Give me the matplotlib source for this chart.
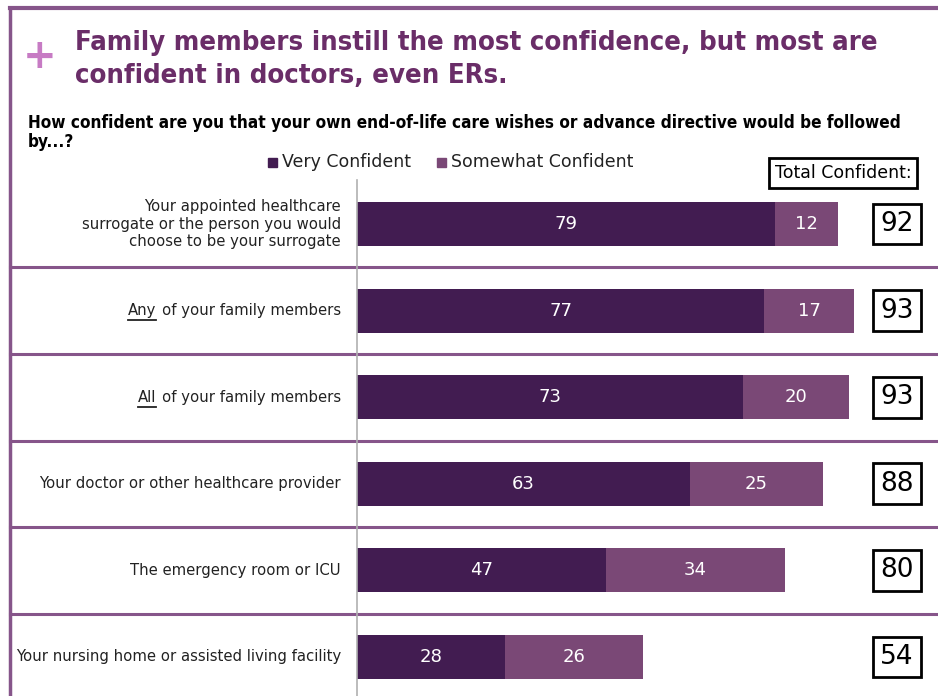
import matplotlib
matplotlib.use("Agg")
import matplotlib.pyplot as plt
from matplotlib.lines import Line2D
from matplotlib.patches import Rectangle
from matplotlib import font_manager as fm
import matplotlib.transforms as mtrans

categories = [
    "Your appointed healthcare\nsurrogate or the person you would\nchoose to be your surrogate",
    "Any of your family members",
    "All of your family members",
    "Your doctor or other healthcare provider",
    "The emergency room or ICU",
    "Your nursing home or assisted living facility",
]
very = [79, 77, 73, 63, 47, 28]
somewhat = [12, 17, 20, 25, 34, 26]
totals = [92, 93, 93, 88, 80, 54]
series_names = ["Very Confident", "Somewhat Confident"]

DARK = "#421c51"
LIGHT = "#7a4876"
TITLE = "#6a2d68"
FRAME = "#86558a"
PLUS = "#c77bc4"

W, H = 938, 696
fig = plt.figure(figsize=(W / 100, H / 100), dpi=100)
r = fig.canvas.get_renderer()


def fx(px):
    return px / W


def fy(py):
    return 1 - py / H


def condensed_bold():
    best = None
    for f in fm.fontManager.ttflist:
        name = f.name.lower()
        st = str(f.stretch).lower()
        cond = ("condensed" in st or "narrow" in name or "condensed" in name
                or "narrow" in f.fname.lower() or "condensed" in f.fname.lower())
        wt = f.weight
        bold = (wt in ("bold", "heavy", "black", "demibold", "semibold")
                or (isinstance(wt, int) and wt >= 600))
        if cond and bold and "mono" not in name and "serif" not in name.replace("sans", ""):
            best = f.fname
            break
    if best:
        return fm.FontProperties(fname=best)
    return fm.FontProperties(family="Liberation Sans", weight="bold")


TITLE_FP = condensed_bold()


def fitted_size(s, target_w, fp):
    probe = fig.text(0, 0, s, fontproperties=fp)
    probe.set_fontsize(20)
    w = probe.get_window_extent(r).width
    probe.remove()
    return 20 * target_w / w


# bar axes: x=0 at 357px, 5.29 px per unit; rows 86.6 px apart, first center at 224px
x0, pxu = 357, 5.29
row0, rowh = 224, 86.6
ax_top, ax_bot = 180, 696
ax = fig.add_axes([fx(x0), fy(ax_bot), fx(W - x0), (ax_bot - ax_top) / H])
ax.set_xlim(0, (W - x0) / pxu)
ax.set_ylim((ax_bot - row0) / rowh, (ax_top - row0) / rowh)
for s in ax.spines.values():
    s.set_visible(False)
ax.spines["left"].set_visible(True)
ax.spines["left"].set_color("#b0b0b0")
ax.spines["left"].set_linewidth(1.2)
ax.set_xticks([])
ax.set_yticks([])

ypos = list(range(len(categories)))
bh = 44 / rowh
ax.barh(ypos, very, height=bh, color=DARK, label=series_names[0])
ax.barh(ypos, somewhat, left=very, height=bh, color=LIGHT, label=series_names[1])

for i in ypos:
    ax.text(very[i] / 2, i, str(very[i]), color="white", ha="center", va="center",
            fontsize=13, family="DejaVu Sans")
    ax.text(very[i] + somewhat[i] / 2, i, str(somewhat[i]), color="white", ha="center",
            va="center", fontsize=13, family="DejaVu Sans")

bt = mtrans.blended_transform_factory(fig.transFigure, ax.transData)
for i in ypos:
    ax.text(fx(897), i, str(totals[i]), transform=bt, ha="center", va="center",
            fontsize=19, family="DejaVu Sans", color="black",
            bbox=dict(boxstyle="square,pad=0.28", fc="white", ec="black", lw=2))

# category label font size fitted so longest label spans ~323 px
LAB_FP = fm.FontProperties(family="DejaVu Sans")
lab_size = fitted_size(categories[-1], 323, LAB_FP)

labx = fx(341)
lab_texts = []
for i, c in enumerate(categories):
    if c.startswith("Any ") or c.startswith("All "):
        t = ax.text(labx, i, c[4:], transform=bt, ha="right", va="center",
                    fontproperties=LAB_FP, fontsize=lab_size, color="#222222")
        lab_texts.append((i, c[:3], t))
    else:
        ax.text(labx, i, c, transform=bt, ha="right", va="center",
                fontproperties=LAB_FP, fontsize=lab_size, color="#222222",
                linespacing=1.2)

fig.canvas.draw()
for i, word, t in lab_texts:
    bb = t.get_window_extent(r)
    wt = ax.text((bb.x0 - 6) / W, i, word, transform=bt, ha="right", va="center",
                 fontproperties=LAB_FP, fontsize=lab_size, color="#222222")
    fig.canvas.draw()
    wb = wt.get_window_extent(r)
    yy = (wb.y0 - 2) / H
    fig.add_artist(Line2D([wb.x0 / W, wb.x1 / W], [yy, yy],
                          color="#222222", lw=1.3, transform=fig.transFigure))

# row separators
for b in range(len(categories) - 1):
    ax.plot([fx(10), 1.0], [b + 0.5, b + 0.5], transform=bt, color=FRAME,
            lw=2.2, clip_on=False)

# frame
fig.add_artist(Line2D([fx(10), 1.0], [fy(8), fy(8)], color=FRAME, lw=3,
                      transform=fig.transFigure))
fig.add_artist(Line2D([fx(10), fx(10)], [fy(8), 0], color=FRAME, lw=2.5,
                      transform=fig.transFigure))

# title
fig.text(fx(40), fy(57), "+", color=PLUS, fontsize=29, fontweight="bold",
         ha="center", va="center", family="DejaVu Sans")
t1 = "Family members instill the most confidence, but most are"
t2 = "confident in doctors, even ERs."
tsz = fitted_size(t1, 805, TITLE_FP)
fig.text(fx(75), fy(50), t1, fontproperties=TITLE_FP, fontsize=tsz, color=TITLE,
         ha="left", va="baseline")
fig.text(fx(75), fy(83), t2, fontproperties=TITLE_FP, fontsize=tsz, color=TITLE,
         ha="left", va="baseline")

s1 = "How confident are you that your own end-of-life care wishes or advance directive would be followed"
s2 = "by...?"
ssz = fitted_size(s1, 877, TITLE_FP)
fig.text(fx(28), fy(128), s1, fontproperties=TITLE_FP, fontsize=ssz, color="black",
         ha="left", va="baseline")
fig.text(fx(28), fy(147), s2, fontproperties=TITLE_FP, fontsize=ssz, color="black",
         ha="left", va="baseline")

# legend
for (lx, name, col) in [(268, series_names[0], DARK), (437, series_names[1], LIGHT)]:
    fig.add_artist(Rectangle((fx(lx), fy(167)), fx(9), 9 / H, color=col,
                             transform=fig.transFigure))
    fig.text(fx(lx + 14), fy(162), name, fontsize=12.5, ha="left", va="center",
             family="DejaVu Sans", color="#222222")

fig.text(fx(843), fy(173), "Total Confident:", fontsize=12.5, ha="center", va="center",
         family="DejaVu Sans", color="black",
         bbox=dict(boxstyle="square,pad=0.35", fc="white", ec="black", lw=2))

fig.savefig("out.png", dpi=100)
